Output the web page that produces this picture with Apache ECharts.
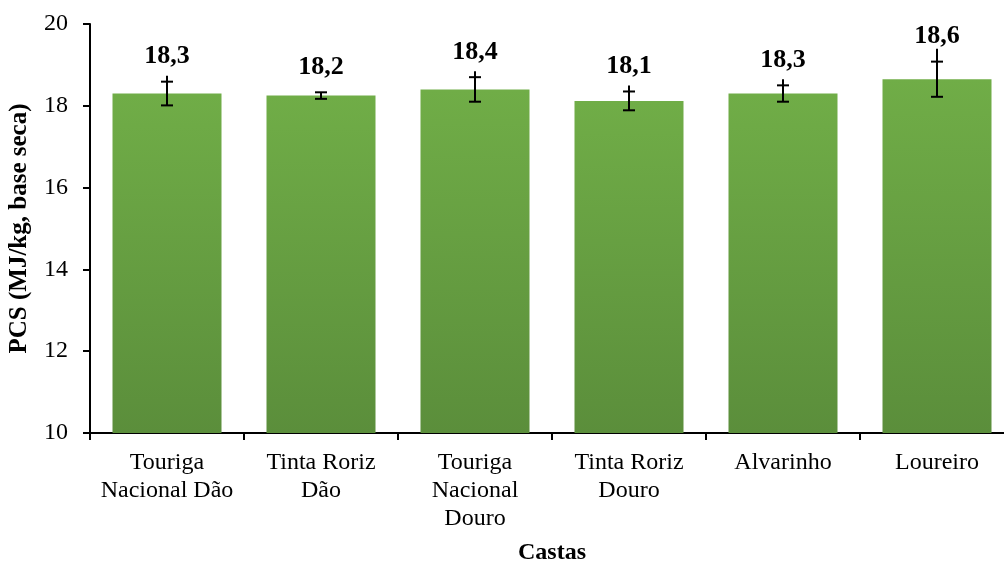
<!DOCTYPE html>
<html><head><meta charset="utf-8">
<script src="https://cdn.jsdelivr.net/npm/echarts@6/dist/echarts.min.js"></script>
<style>html,body{margin:0;padding:0;background:#fff}#c{width:1004px;height:561px}</style>
</head><body><div id="c"></div>
<script>
const categories = ["Touriga\nNacional Dão", "Tinta Roriz\nDão", "Touriga\nNacional\nDouro", "Tinta Roriz\nDouro", "Alvarinho", "Loureiro"];
const means = [18.3, 18.25, 18.4, 18.12, 18.3, 18.65];
const errors = [0.29, 0.08, 0.3, 0.23, 0.2, 0.43];
const labels = ["18,3", "18,2", "18,4", "18,1", "18,3", "18,6"];
const yTicks = [10, 12, 14, 16, 18, 20];

const FONT = '"Liberation Serif", "Times New Roman", serif';
const chart = echarts.init(document.getElementById('c'));
chart.setOption({
  animation: false,
  grid: { left: 90, top: 24, width: 924, height: 409, containLabel: false, outerBoundsMode: 'none' },
  xAxis: {
    type: 'category', data: categories,
    name: 'Castas', nameLocation: 'middle', nameGap: 108,
    nameTextStyle: { fontFamily: FONT, fontWeight: 'bold', fontSize: 24, color: '#000' },
    axisLine: { lineStyle: { color: '#000', width: 2 } },
    axisTick: { show: true, length: 7, lineStyle: { color: '#000', width: 2 } },
    axisLabel: { fontFamily: FONT, fontSize: 24, color: '#000', margin: 16, lineHeight: 28, interval: 0 }
  },
  yAxis: {
    type: 'value', min: yTicks[0], max: yTicks[yTicks.length - 1], interval: 2,
    name: 'PCS (MJ/kg, base seca)', nameLocation: 'middle', nameGap: 58, nameRotate: 90,
    nameTextStyle: { fontFamily: FONT, fontWeight: 'bold', fontSize: 25, color: '#000' },
    axisLine: { show: true, lineStyle: { color: '#000', width: 2 } },
    axisTick: { show: true, length: 7, lineStyle: { color: '#000', width: 2 } },
    splitLine: { show: false },
    axisLabel: { fontFamily: FONT, fontSize: 24, color: '#000', margin: 22 }
  },
  series: [
    {
      type: 'bar', data: means, barWidth: 109,
      itemStyle: {
        color: new echarts.graphic.LinearGradient(0, 0, 0, 1, [
          { offset: 0, color: '#70AD47' }, { offset: 1, color: '#5B8E3B' }
        ])
      }
    },
    {
      type: 'custom',
      data: means.map((m, i) => [i, m - errors[i], m + errors[i]]),
      renderItem: function (params, api) {
        const i = api.value(0);
        const lo = api.coord([i, api.value(1)]);
        const hi = api.coord([i, api.value(2)]);
        const x = lo[0];
        const capW = 6;
        const ext = errors[i] > 0.1 ? (errors[i] > 0.4 ? 13 : 6) : 0;
        const st = { stroke: '#000', lineWidth: 2 };
        return {
          type: 'group',
          children: [
            { type: 'line', shape: { x1: x, y1: lo[1], x2: x, y2: hi[1] - ext }, style: st },
            { type: 'line', shape: { x1: x - capW, y1: lo[1], x2: x + capW, y2: lo[1] }, style: st },
            { type: 'line', shape: { x1: x - capW, y1: hi[1], x2: x + capW, y2: hi[1] }, style: st },
            { type: 'text', x: x, y: hi[1] - 25,
              style: { text: labels[i], fontFamily: FONT, fontWeight: 'bold', fontSize: 26, fill: '#000',
                       align: 'center', verticalAlign: 'middle' } }
          ]
        };
      },
      z: 5
    }
  ]
});
</script></body></html>
